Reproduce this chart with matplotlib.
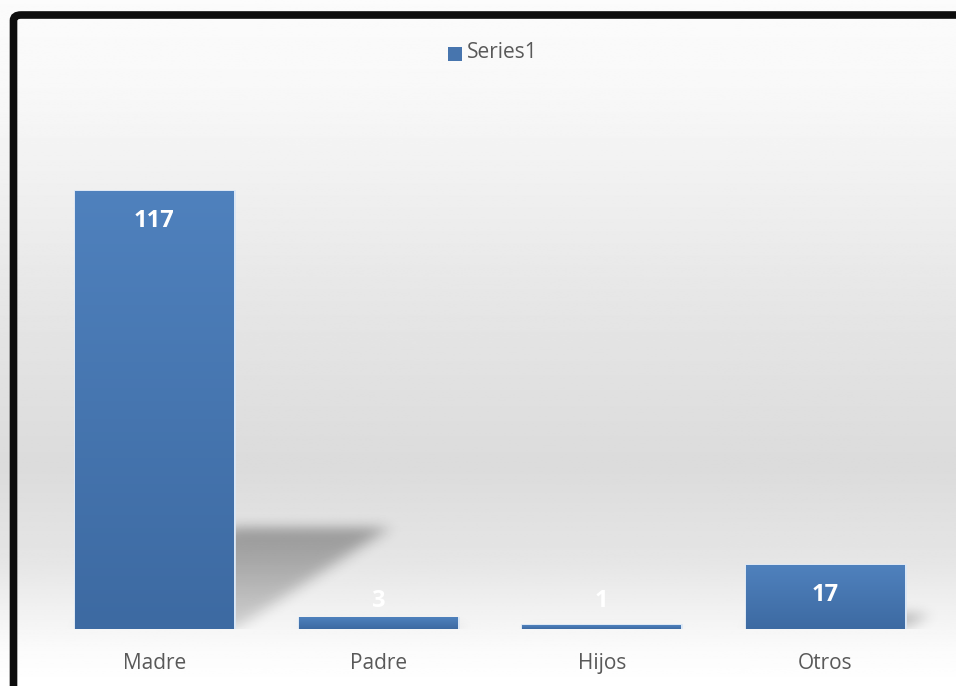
import numpy as np
import matplotlib.pyplot as plt
from matplotlib.patches import FancyBboxPatch, Rectangle
from matplotlib.colors import LinearSegmentedColormap

categorias = ['Madre', 'Padre', 'Hijos', 'Otros']
valores = [117, 3, 1, 17]
serie = 'Series1'

fig = plt.figure(figsize=(9.56, 6.86), dpi=100)

# fondo con degradado (blanco arriba, gris al centro, blanco abajo)
bg = fig.add_axes([0, 0, 1, 1], zorder=0)
bg.axis('off')
yy = np.linspace(0, 1, 400)  # 0 = arriba
stops_y = [0.0, 0.12, 0.45, 0.68, 0.82, 0.95, 1.0]
stops_v = [0.985, 0.975, 0.90, 0.86, 0.90, 0.985, 1.0]
grad = np.interp(yy, stops_y, stops_v)
bg.imshow(np.repeat(grad[:, None], 2, axis=1), cmap='gray', vmin=0, vmax=1,
          aspect='auto', extent=[0, 1, 0, 1], origin='upper')
bg.set_xlim(0, 1)
bg.set_ylim(0, 1)

ax = fig.add_axes([0.0446, 0.0831, 0.9358, 0.7638], zorder=2)
ax.patch.set_alpha(0)
x = np.arange(len(categorias))
ancho = 0.71

# sombras proyectadas detras de las barras
gx = np.linspace(-0.5, 3.5, 900)
gy = np.linspace(0, 40, 300)
GX, GY = np.meshgrid(gx, gy)
mask = np.zeros_like(GX)
k, s = 0.231, 0.00592
for xi, v in zip(x, valores):
    h = k * v
    off = s * v / max(h, 1e-9)
    dentro = (GY <= h) & (GX >= xi - ancho / 2 + GY * off) & (GX <= xi + ancho / 2 + GY * off)
    mask[dentro] = 0.45 + 0.55 * (GY[dentro] / h)


def blur(a, sig, axis):
    r = int(3 * sig) + 1
    t = np.arange(-r, r + 1)
    ker = np.exp(-t ** 2 / (2 * sig ** 2))
    ker /= ker.sum()
    return np.apply_along_axis(lambda m: np.convolve(m, ker, mode='same'), axis, a)


mask = blur(mask, 8, 1)
mask = blur(mask, 12, 0)
sombra = np.zeros(mask.shape + (4,))
sombra[..., 3] = mask * 0.33
ax.imshow(sombra, extent=[-0.5, 3.5, 0, 40], origin='lower', aspect='auto', zorder=1,
          interpolation='bilinear')

# barras con degradado azul
cmap_bar = LinearSegmentedColormap.from_list('azul', ['#3d6aa2', '#4f81bd'])
for xi, v in zip(x, valores):
    ax.add_patch(Rectangle((xi - ancho / 2, 0), ancho, v, facecolor='none',
                           edgecolor='#dbe7f5', linewidth=2.0, zorder=2))
    ax.imshow(np.linspace(0, 1, 100)[:, None], cmap=cmap_bar, aspect='auto',
              extent=[xi - ancho / 2, xi + ancho / 2, 0, v], origin='lower', zorder=3)
    # etiquetas de valor
    ax.text(xi, max(v - 8.0, 7.5), str(v), ha='center', va='center', color='white',
            fontsize=17, fontweight='bold', family='Open Sans', zorder=4)

ax.set_xlim(-0.5, 3.5)
ax.set_ylim(0, 140)
ax.set_xticks(x)
ax.set_xticklabels(categorias, fontsize=15, color='#595959', family='Open Sans')
ax.tick_params(axis='x', length=0, pad=17)
ax.set_yticks([])
for sp in ax.spines.values():
    sp.set_visible(False)

# leyenda
fig.patches.append(Rectangle((448 / 956, 1 - 61 / 686), 14 / 956, 14 / 686,
                             transform=fig.transFigure, facecolor='#4775ae',
                             edgecolor='none', zorder=5))
fig.text(467 / 956, 1 - 53 / 686, serie, ha='left', va='center', fontsize=15,
         color='#595959', family='Open Sans', zorder=5)

# marco negro
marco = FancyBboxPatch((13.5 / 956, -0.1), 1.2, 1 - 15 / 686 + 0.1,
                       boxstyle='round,pad=0,rounding_size=0.008',
                       transform=fig.transFigure, facecolor='none',
                       edgecolor='#0d0d0d', linewidth=5.5, zorder=6)
fig.patches.append(marco)

fig.savefig('out.png', dpi=100)
